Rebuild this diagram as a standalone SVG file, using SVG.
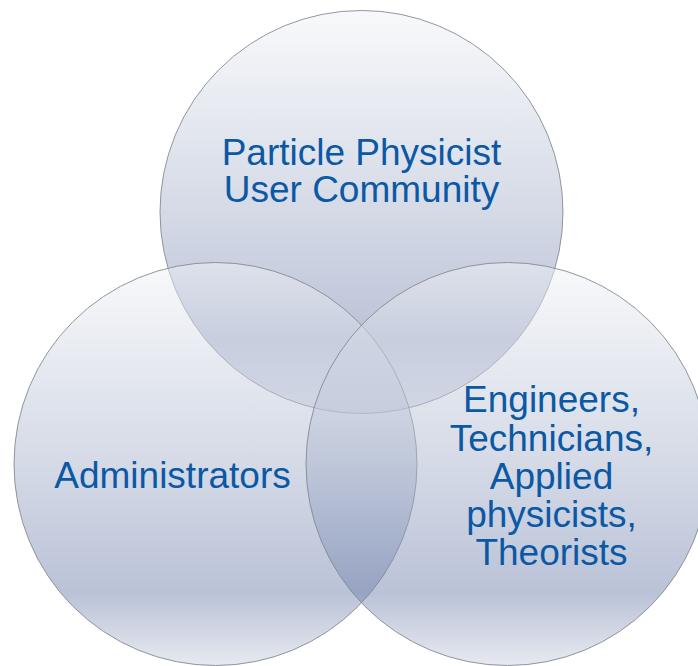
<svg xmlns="http://www.w3.org/2000/svg" width="698" height="666" viewBox="0 0 698 666">
<style>
.c{fill:url(#g);fill-opacity:0.49;stroke:#80858f;stroke-width:1;stroke-opacity:0.85}
.t{font-family:"Liberation Sans",Arial,sans-serif;font-size:37px;fill:#0b58a5;text-anchor:middle}
</style>
<defs>
<linearGradient id="g" x1="0" y1="0" x2="0" y2="1">
<stop offset="0" stop-color="#f1f3f6"/>
<stop offset="0.5" stop-color="#a8b3cc"/>
<stop offset="0.82" stop-color="#7383ad"/>
<stop offset="1" stop-color="#cdd3e1"/>
</linearGradient>
</defs>
<rect width="698" height="666" fill="#ffffff"/>
<g id="top">
<circle class="c" cx="361.5" cy="212" r="201.5"/>
</g>
<g id="left">
<circle class="c" cx="215.5" cy="464" r="201.5"/>
</g>
<g id="right">
<circle class="c" cx="507.5" cy="464" r="201.5"/>
</g>
<g id="labels">
<text class="t" x="361.5" y="165">Particle Physicist</text>
<text class="t" x="361.5" y="201.5">User Community</text>
<text class="t" x="172.5" y="488">Administrators</text>
<text class="t" x="551.5" y="412.3">Engineers,</text>
<text class="t" x="551.5" y="451">Technicians,</text>
<text class="t" x="551.5" y="489.3">Applied</text>
<text class="t" x="551.5" y="527.3">physicists,</text>
<text class="t" x="551.5" y="565">Theorists</text>
</g>
<g id="connectors"/>
</svg>
